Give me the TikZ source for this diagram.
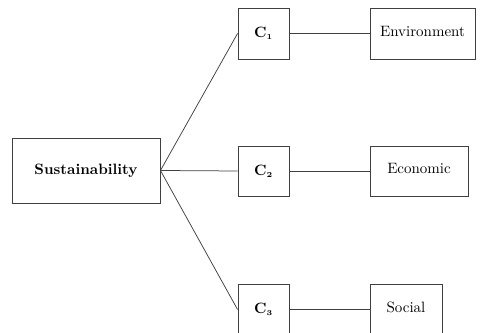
\documentclass[tikz,border=0pt]{standalone}
\begin{document}
\begin{tikzpicture}[x=0.667pt,y=-0.667pt,
  box/.style={draw=black!75,line width=0.6pt,rectangle,inner sep=0pt,align=center},
  link/.style={draw=black!75,line width=0.5pt}]
\useasboundingbox (0,0) rectangle (483,333);
\node[box,minimum width=148*0.667pt,minimum height=65*0.667pt] (s) at (86,170.5) {\textbf{Sustainability}};
\node[box,minimum width=51*0.667pt,minimum height=51*0.667pt] (c1) at (263.5,33.5) {\raisebox{1.5pt}{$\mathbf{C_{\scriptscriptstyle 1}}$}};
\node[box,minimum width=51*0.667pt,minimum height=50*0.667pt] (c2) at (263.5,171) {\raisebox{1.5pt}{$\mathbf{C_{\scriptscriptstyle 2}}$}};
\node[box,minimum width=51*0.667pt,minimum height=51*0.667pt] (c3) at (263.5,309.5) {\raisebox{1.5pt}{$\mathbf{C_{\scriptscriptstyle 3}}$}};
\node[box,minimum width=105*0.667pt,minimum height=51*0.667pt] (e1) at (422.5,33.5) {\raisebox{3pt}{Environment}};
\node[box,minimum width=98*0.667pt,minimum height=50*0.667pt] (e2) at (419,171) {\raisebox{3pt}{Economic}};
\node[box,minimum width=72*0.667pt,minimum height=51*0.667pt] (e3) at (406,309.5) {\raisebox{3pt}{Social}};
\draw[link] (s.east) -- (c1.west);
\draw[link] (s.east) -- (c2.west);
\draw[link] (s.east) -- (c3.west);
\draw[link] (c1.east) -- (e1.west);
\draw[link] (c2.east) -- (e2.west);
\draw[link] (c3.east) -- (e3.west);
\end{tikzpicture}
\end{document}
